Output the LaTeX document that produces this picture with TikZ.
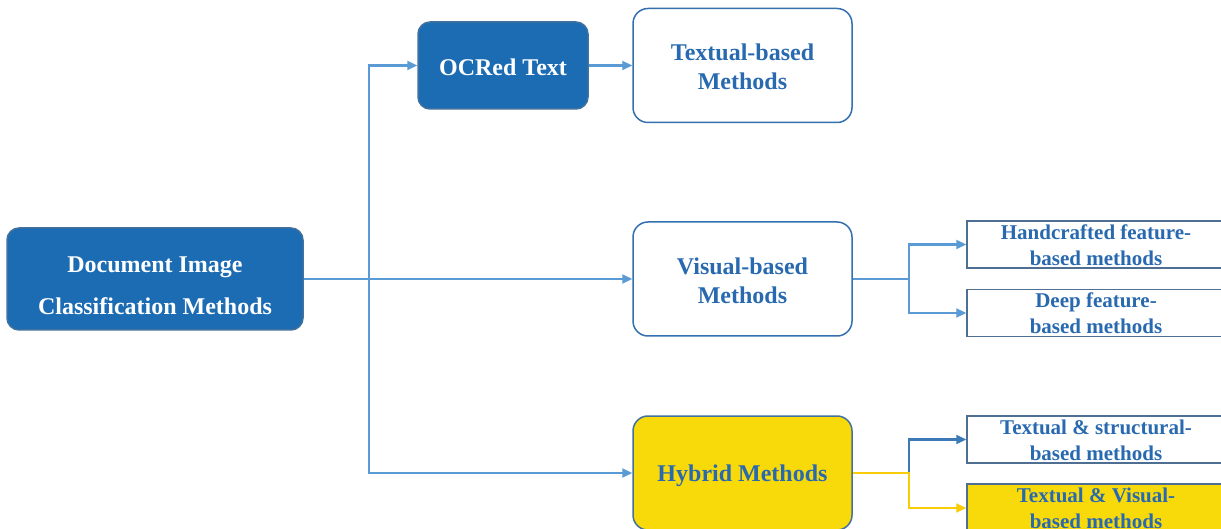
\documentclass[tikz,border=0pt]{standalone}
\usepackage{fontspec}
\setmainfont{Liberation Serif}
\usetikzlibrary{arrows.meta}
\definecolor{darkfill}{RGB}{28,108,180}
\definecolor{edgeblue}{RGB}{65,113,156}
\definecolor{midblue}{RGB}{52,112,175}
\definecolor{linkblue}{RGB}{91,155,213}
\definecolor{txtblue}{RGB}{40,105,175}
\definecolor{goldfill}{RGB}{248,218,10}
\definecolor{leafedge}{RGB}{78,110,146}
\tikzset{
  x=1pt, y=-1pt,
  basebox/.style={draw, line width=1.5pt, align=center, inner sep=0pt, font=\bfseries\fontsize{24}{29}\selectfont},
  darkbox/.style={basebox, fill=darkfill, draw=edgeblue, text=white, rounded corners=12pt},
  lightbox/.style={basebox, fill=white, draw=midblue, text=txtblue, rounded corners=15pt,
    minimum width=219pt, minimum height=114pt},
  goldbox/.style={lightbox, fill=goldfill, draw=edgeblue},
  leafbox/.style={draw=leafedge, line width=1.5pt, fill=white, text=txtblue, align=center, inner sep=0pt,
    minimum width=258pt, minimum height=47pt, font=\bfseries\fontsize{21}{26}\selectfont},
  goldleaf/.style={leafbox, fill=goldfill},
  link/.style={draw=linkblue, line width=2.2pt, -{Triangle[length=10pt,width=9pt]}},
  goldlink/.style={link, draw=goldfill!85!orange},
}
\begin{document}
\begin{tikzpicture}
\useasboundingbox (0,0) rectangle (1221,529);
\fill[white] (0,0) rectangle (1221,529);
\begin{scope}
\clip (0,0) rectangle (1221,529);

% root and first level
\node[darkbox, minimum width=296pt, minimum height=102pt,
      font=\bfseries\fontsize{24}{42}\selectfont] (doc) at (155,279)
  {\rule{0pt}{29pt}Document Image\\Classification Methods};
\node[darkbox, minimum width=170pt, minimum height=87pt] (ocr) at (503,65.5) {\rule{0pt}{20pt}OCRed Text};
\node[lightbox] (txt) at (742.5,65.5) {\rule{0pt}{19pt}Textual-based\\Methods};
\node[lightbox] (vis) at (742.5,279) {\rule{0pt}{21pt}Visual-based\\Methods};
\node[goldbox] (hyb) at (742.5,473) {\rule{0pt}{23pt}Hybrid Methods};

% leaves
\node[leafbox] (hand) at (1096,244.5) {\rule{0pt}{17pt}Handcrafted feature-\\based methods};
\node[leafbox] (deep) at (1096,313) {Deep feature-\\based methods};
\node[leafbox] (tstr) at (1096,439.5) {\rule{0pt}{17pt}Textual \& structural-\\based methods};
\node[goldleaf, minimum height=48pt] (tvis) at (1096,508) {Textual \& Visual-\\based methods};

% connectors
\coordinate (split) at (369,279);
\draw[link] (doc.east) -- (vis.west);
\draw[link] (split) |- (ocr.west);
\draw[link] (split) |- (hyb.west);
\draw[link] (ocr.east) -- (txt.west);

\coordinate (vsplit) at (909,279);
\draw[link] (vis.east) -- (vsplit) |- (hand.west);
\draw[link] (vsplit) |- (deep.west);

\coordinate (hsplit) at (909,473);
\draw[link, draw=midblue!80!linkblue] (hsplit) |- (tstr.west);
\draw[goldlink] (hyb.east) -- (hsplit) |- (tvis.west);
\end{scope}
\end{tikzpicture}
\end{document}
